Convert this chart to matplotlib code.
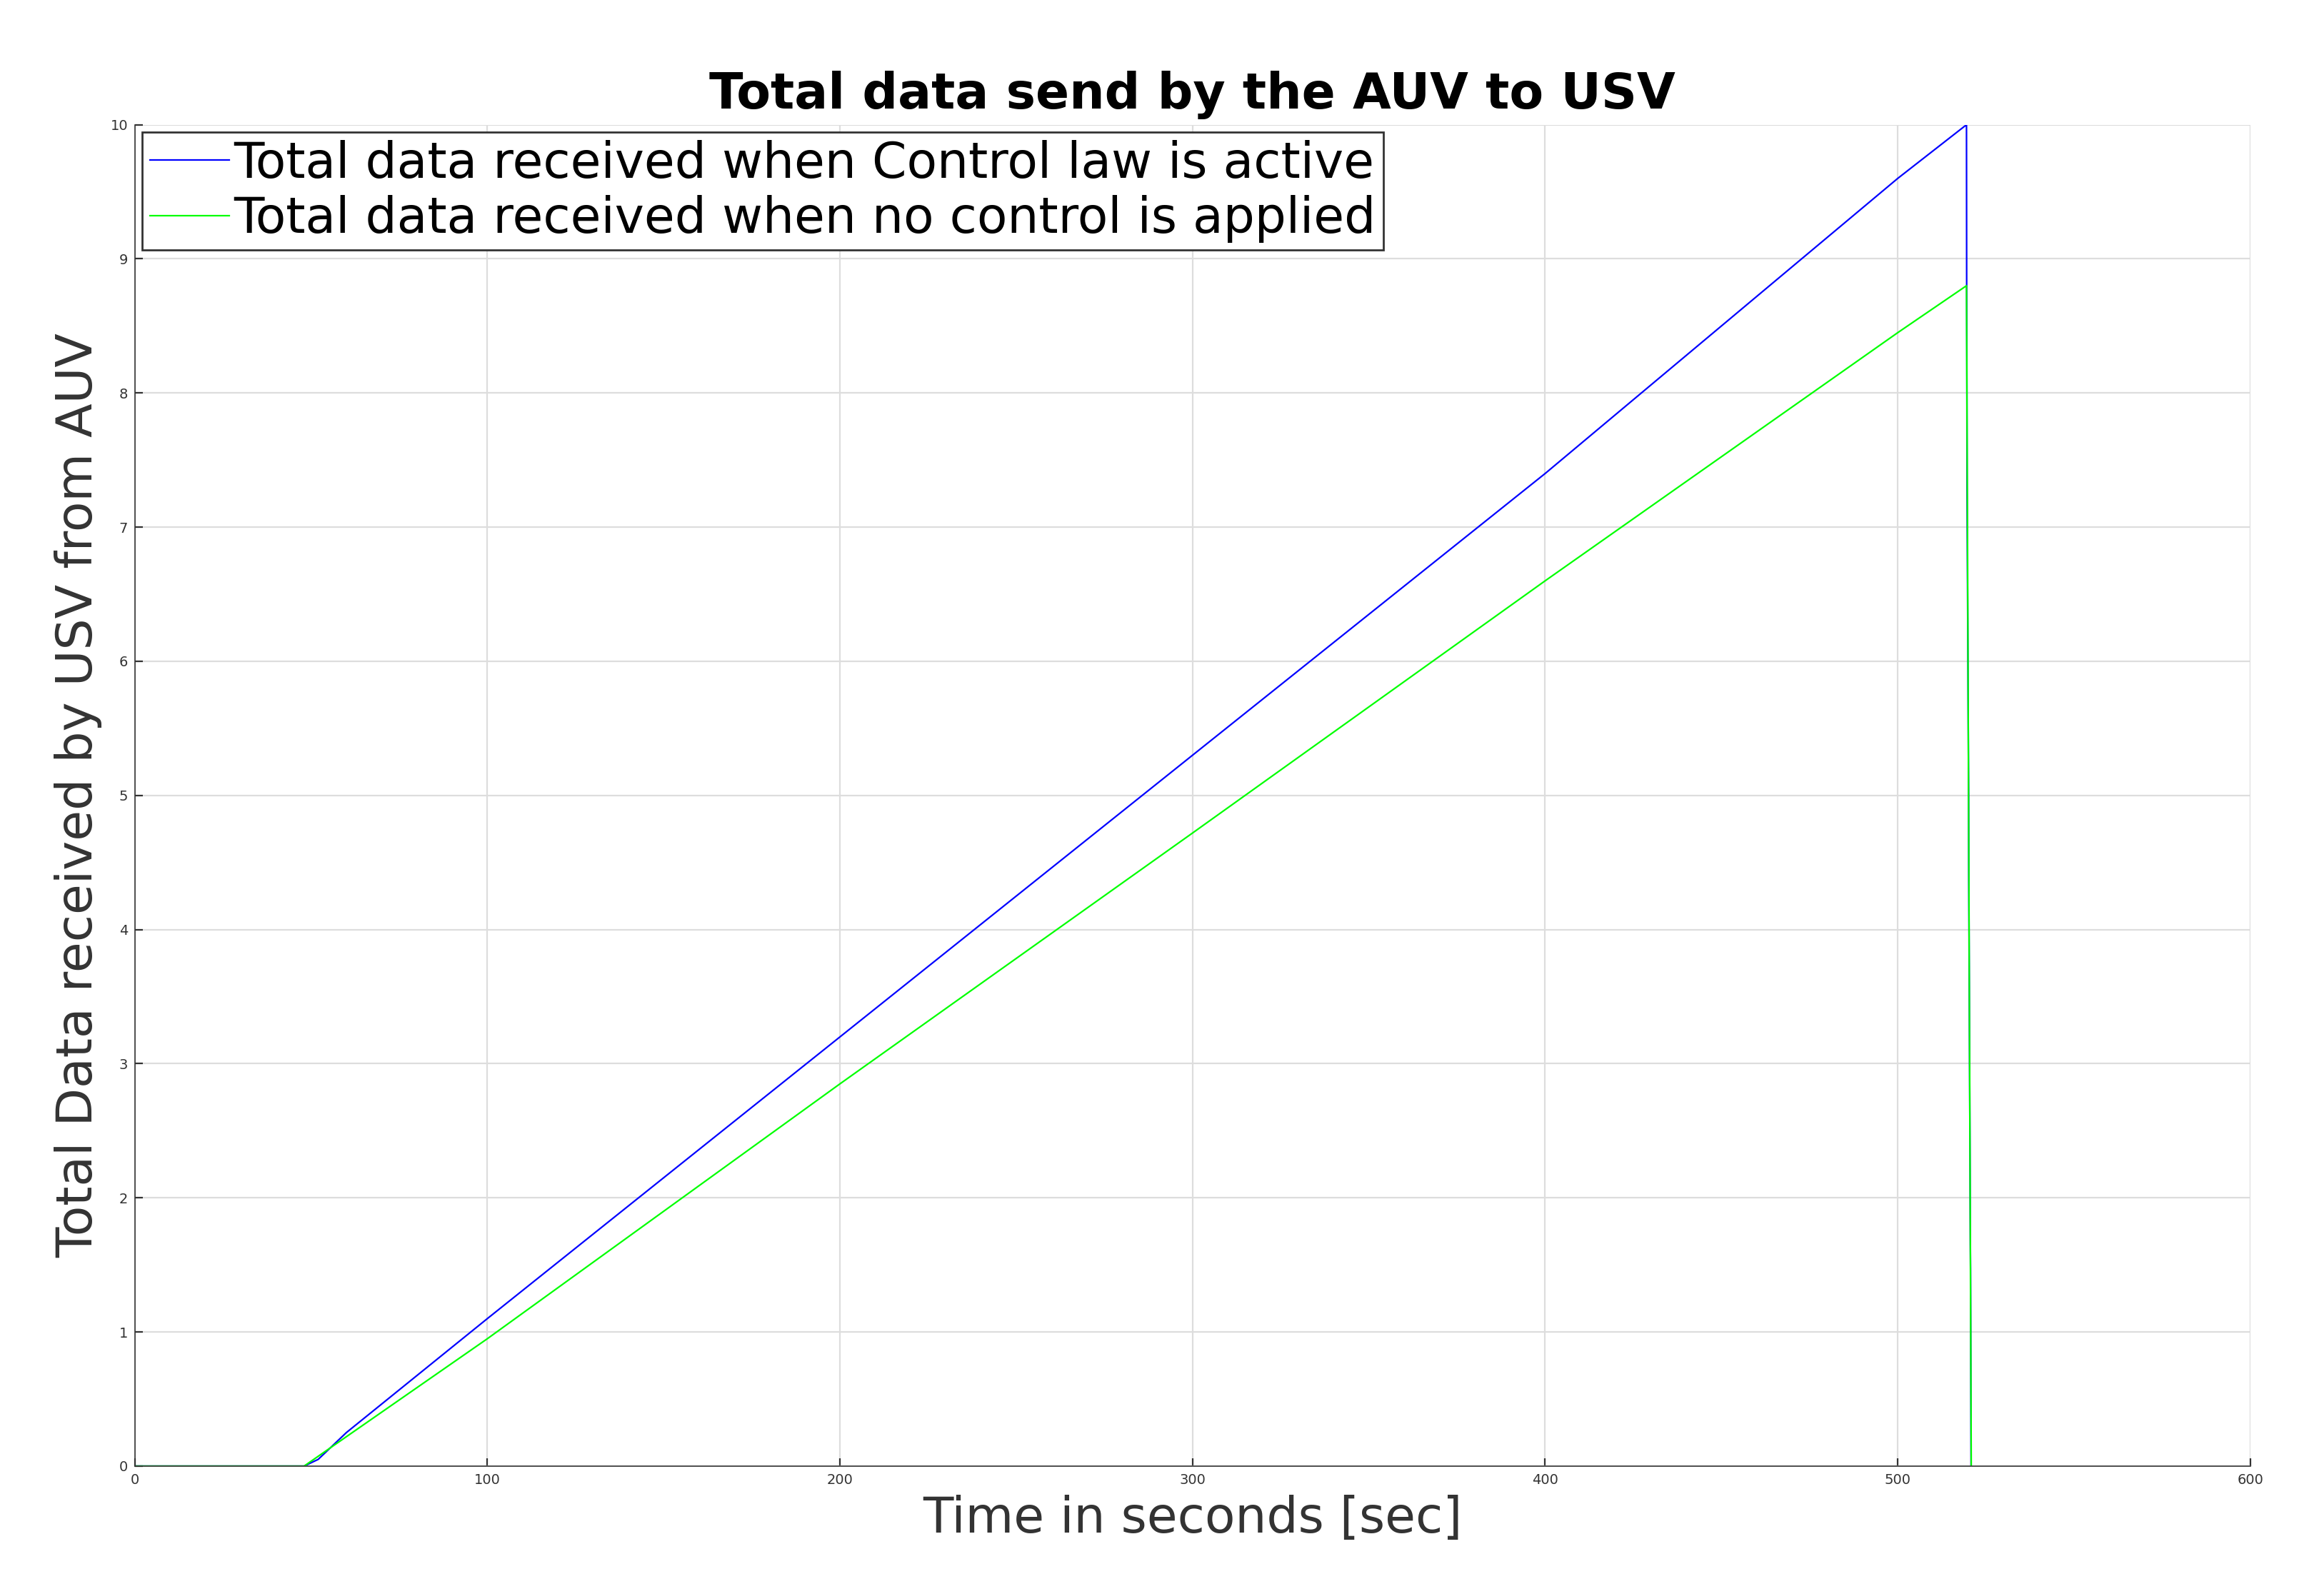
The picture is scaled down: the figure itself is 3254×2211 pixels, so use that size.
import matplotlib
matplotlib.use("Agg")
import matplotlib.pyplot as plt

t_ctrl = [0, 48, 52, 60, 100, 150, 200, 250, 300, 350, 400, 450, 500, 519.5, 519.55, 519.6, 519.65, 520.1, 520.15, 520.6, 520.65, 520.8]
d_ctrl = [0, 0, 0.05, 0.25, 1.1, 2.15, 3.2, 4.25, 5.3, 6.35, 7.4, 8.5, 9.6, 10.0, 8.8, 8.3, 7.3, 5.0, 4.4, 1.65, 1.47, 0]
t_none = [0, 48, 100, 200, 300, 400, 500, 519.5, 520.85]
d_none = [0, 0, 0.95, 2.85, 4.72, 6.6, 8.45, 8.8, 0]

fig = plt.figure(figsize=(16.275, 11.055), dpi=200)
ax = fig.add_axes([0.058, 0.0715, 0.91, 0.8495])
ax.plot(t_ctrl, d_ctrl, color="#0000ff", lw=0.8, label="Total data received when Control law is active")
ax.plot(t_none, d_none, color="#00ff00", lw=0.8, label="Total data received when no control is applied")
ax.set_xlim(0, 600)
ax.set_ylim(0, 10)
ax.set_xticks(range(0, 601, 100))
ax.set_yticks(range(0, 11))
ax.grid(True, color="#dddddd", lw=0.8)
ax.tick_params(labelsize=7, colors="#333333", direction="in", length=4)
for k, s in ax.spines.items():
    s.set_color("#333333"); s.set_linewidth(0.6)
ax.spines["top"].set_visible(False)
ax.spines["right"].set_visible(False)
ax.set_xlabel("Time in seconds [sec]", fontsize=25, color="#333333")
ax.set_ylabel("Total Data received by USV from AUV", fontsize=25, color="#333333")
ax.set_title("Total data send by the AUV to USV", fontsize=25, fontweight="bold", pad=8)
leg = ax.legend(loc="upper left", fontsize=25, fancybox=False, framealpha=1, edgecolor="#333333",
                borderpad=0.15, handlelength=1.6, handletextpad=0.1, borderaxespad=0.15, labelspacing=0.15)
fig.savefig("out.png", dpi=200)
